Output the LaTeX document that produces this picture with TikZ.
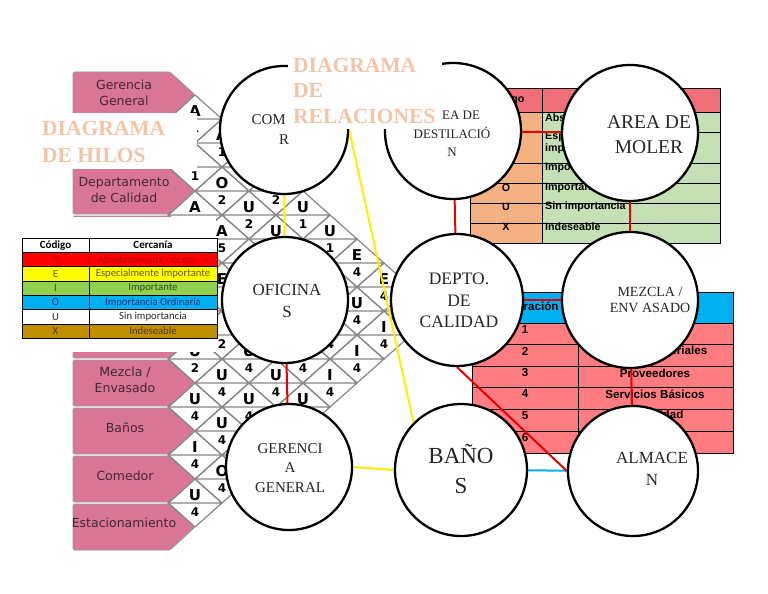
\documentclass[tikz,border=0pt]{standalone}
\usepackage{fontspec}
\setmainfont{Liberation Serif}
\setsansfont{DejaVu Sans}
\newfontfamily\tablaFont{Liberation Sans}
\newfontfamily\leyendaFont{Carlito}
\usetikzlibrary{positioning}
\pgfdeclarelayer{base}
\pgfdeclarelayer{lazos}
\pgfsetlayers{base,lazos,main}

\definecolor{filaRosa}{RGB}{217,118,150}
\definecolor{filaBorde}{RGB}{150,150,150}
\definecolor{filaTexto}{RGB}{70,40,52}
\definecolor{rejilla}{RGB}{135,135,135}
\definecolor{tituloMelon}{RGB}{243,196,168}
\definecolor{lazoRojo}{RGB}{232,0,0}
\definecolor{lazoAmarillo}{RGB}{255,240,0}
\definecolor{lazoAzul}{RGB}{0,176,240}
\definecolor{leyRojo}{RGB}{255,0,0}
\definecolor{leyRojoT}{RGB}{192,0,0}
\definecolor{leyAmarillo}{RGB}{255,255,0}
\definecolor{leyAmarilloT}{RGB}{110,80,0}
\definecolor{leyVerde}{RGB}{146,208,80}
\definecolor{leyVerdeT}{RGB}{40,80,20}
\definecolor{leyAzul}{RGB}{0,176,240}
\definecolor{leyAzulT}{RGB}{0,50,130}
\definecolor{leyBlancoT}{RGB}{40,40,40}
\definecolor{leyCafe}{RGB}{191,143,0}
\definecolor{leyCafeT}{RGB}{80,55,0}
\definecolor{tabRosa}{RGB}{240,110,120}
\definecolor{tabSalmon}{RGB}{244,177,131}
\definecolor{tabVerde}{RGB}{197,224,180}
\definecolor{tabAzul}{RGB}{0,176,240}
\definecolor{tabCoral}{RGB}{255,124,128}

\begin{document}
\begin{tikzpicture}[x=1pt, y=-1pt,
  fila/.style={fill=filaRosa, draw=filaBorde, line width=0.8pt, rounded corners=1.5pt},
  filaT/.style={font=\sffamily\fontsize{12.5}{16.5}\selectfont, text=filaTexto, align=center, inner sep=0pt},
  celda/.style={draw=rejilla, line width=1.2pt},
  letra/.style={font=\sffamily\bfseries\fontsize{15}{15}\selectfont, inner sep=0pt},
  numero/.style={font=\sffamily\bfseries\fontsize{12}{12}\selectfont, inner sep=0pt},
  circulo/.style={circle, draw=black, line width=2.3pt, fill=white, minimum size=#1, inner sep=0pt},
  ctexto/.style={align=center, inner sep=0pt, text=black!85},
  lazo/.style={line width=2pt},
  titulo/.style={font=\bfseries\fontsize{21.5}{26}\selectfont, text=tituloMelon, inner sep=0pt},
  leyCod/.style={draw=black, line width=0.6pt, outer sep=0pt, minimum width=67pt,
                 minimum height=14.3pt, inner sep=0pt, font=\leyendaFont\fontsize{10.7}{11}\selectfont},
  leyCer/.style={leyCod, minimum width=128pt},
  tab/.style={font=\tablaFont\bfseries\fontsize{10.7}{11.5}\selectfont, inner sep=0pt},
  tabB/.style={tab, font=\tablaFont\bfseries\fontsize{11.6}{12}\selectfont}
]
  \useasboundingbox (0,0) rectangle (768,594);
  \begin{pgfonlayer}{base}
  \fill[white] (0,0) rectangle (768,594);

  % carta de relaciones (filas)
  \foreach \r in {1,...,10}{
    \pgfmathsetmacro{\yc}{95+48*(\r-1)}
    \draw[fila] (73,\yc-23) -- (170,\yc-23) -- (195,\yc) -- (170,\yc+23) -- (73,\yc+23) -- cycle;
  }
  \node[filaT] (gg) at (124,93)  {Gerencia\\General};
  \node[filaT] (dc) at (124,190) {Departamento\\de Calidad};
  \node[filaT] (me) at (125,380) {Mezcla /\\Envasado};
  \node[filaT] (ba) at (125,428) {Baños};
  \node[filaT] (co) at (125,476) {Comedor};
  \node[filaT] (es) at (124,523) {Estacionamiento};

  % rombos
  \foreach \i in {1,...,9}{
    \pgfmathtruncatemacro{\ini}{\i+1}
    \foreach \j in {\ini,...,10}{
      \pgfmathsetmacro{\cx}{195+27*(\j-\i-1)}
      \pgfmathsetmacro{\cy}{95+24*(\i+\j-2)}
      \draw[celda] (\cx-27,\cy) -- (\cx,\cy-24) -- (\cx+27,\cy) -- (\cx,\cy+24) -- cycle
                   (\cx-27,\cy) -- (\cx+27,\cy);
    }
  }
  \foreach \i/\j/\le in {1/2/A,1/3/A,2/3/I,2/4/O,3/4/A,1/6/U,2/5/U,3/5/A,2/6/U,1/7/U,1/8/E,1/9/E,
                         2/9/U,2/10/I,3/10/I,4/6/E,4/10/I,5/8/U,5/9/U,5/10/U,6/7/U,6/8/U,6/9/U,7/8/U,
                         7/9/U,8/9/I,8/10/O,9/10/U}{
    \node[letra] (l\i-\j) at ({195+27*(\j-\i-1)},{87+24*(\i+\j-2)}) {\le};
  }
  \foreach \i/\j/\nu in {1/2/1,1/3/1,2/3/1,2/4/2,1/5/2,1/6/1,2/5/2,3/5/5,1/7/1,1/8/4,1/9/4,2/9/4,
                         2/10/4,3/9/4,3/10/4,4/9/4,4/10/4,5/7/2,5/8/4,5/9/4,6/7/2,6/8/4,6/9/4,
                         7/8/4,7/9/4,8/9/4,8/10/4,9/10/4}{
    \node[numero] (n\i-\j) at ({195+27*(\j-\i-1)},{104+24*(\i+\j-2)}) {\nu};
  }

  % tabla de cercania (derecha arriba)
  \fill[tabRosa] (470,88) rectangle (720,112);
  \fill[tabSalmon] (470,112) rectangle (542,243);
  \fill[tabVerde] (542,112) rectangle (720,243);
  \draw[line width=0.7pt] (470,88) rectangle (720,243) (542,88) -- (542,243);
  \foreach \yy in {112,132,163,183,203,223} \draw[line width=0.7pt] (470,\yy) -- (720,\yy);
  \node[tab] (t1h) at (506,100) {Código};
  \foreach \k/\yy/\cod in {1/118/A,2/137/E,3/168/I,4/188/O,5/207/U,6/227/X}
    \node[tab] (t1c\k) at (506,\yy) {\cod};
  \node[tab, anchor=west] (t1a) at (545,118) {Absolutamente necesario};
  \node[tab, anchor=north west, align=left] (t1b) at (545,132) {Especialmente\\importante};
  \node[tab, anchor=west] (t1d) at (545,168) {Importante};
  \node[tab, anchor=west] (t1e) at (545,188) {Importancia ordinaria};
  \node[tab, anchor=west] (t1f) at (545,207) {Sin importancia};
  \node[tab, anchor=west] (t1g) at (545,227) {Indeseable};

  % tabla de razones (derecha abajo)
  \fill[tabAzul] (472,292) rectangle (733,323);
  \fill[tabCoral] (472,323) rectangle (733,453);
  \draw[line width=0.7pt] (472,292) rectangle (733,453) (578,292) -- (578,453);
  \foreach \yy in {323,344.5,366,387.5,409,431} \draw[line width=0.7pt] (472,\yy) -- (733,\yy);
  \node[tabB] (t2h) at (525,306) {Numeración};
  \foreach \k/\yy in {1/330,2/351,3/373,4/394,5/416,6/438}
    \node[tabB] (t2n\k) at (525,\yy) {\k};
  \node[tabB] (t2b) at (655,351) {Flujo de Materiales};
  \node[tabB] (t2c) at (655,373) {Proveedores};
  \node[tabB] (t2d) at (655,394) {Servicios Básicos};
  \node[tabB] (t2e) at (655,416) {Seguridad};
  \end{pgfonlayer}

  % circulos
  \node[circulo=128pt] (com)    at (284,130) {};
  \node[circulo=136pt] (destil) at (453,131) {};
  \node[circulo=136pt] (moler)  at (630,133) {};
  \node[circulo=126pt] (ofic)   at (285,300) {};
  \node[circulo=132pt] (depto)  at (457,300) {};
  \node[circulo=136pt] (mezcla) at (630,300) {};
  \node[circulo=126pt] (geren)  at (289,467) {};
  \node[circulo=132pt] (banos)  at (461,470) {};
  \node[circulo=130pt] (almac)  at (633,471) {};

  % lazos entre areas
  \begin{pgfonlayer}{lazos}
  \draw[lazo, lazoAmarillo] (com) -- (ofic);
  \draw[lazo, lazoRojo] (ofic) -- (geren);
  \draw[lazo, lazoAmarillo] (com.east) -- (banos.north west);
  \draw[lazo, lazoAmarillo] (geren.east) -- (banos.west);
  \draw[lazo, lazoAzul] (banos) -- (almac);
  \draw[lazo, lazoRojo] (depto.south) -- (almac.west);
  \draw[lazo, lazoRojo] (destil) -- (moler);
  \draw[lazo, lazoRojo] (destil) -- (depto);
  \draw[lazo, lazoRojo] (moler) -- (mezcla);
  \draw[lazo, lazoRojo] (mezcla) -- (almac);
  \draw[lazo, lazoRojo] (depto) -- (mezcla);
  \end{pgfonlayer}

  \node[ctexto, font=\fontsize{15}{20}\selectfont]   (comT)    at (284,130) {COM\hphantom{EDO}\\R};
  \node[ctexto, font=\fontsize{13}{18.5}\selectfont] (destilT) at (452,134) {AREA DE\\DESTILACIÓ\\N};
  \node[ctexto, font=\fontsize{19.5}{25}\selectfont] (molerT)  at (649,134.5) {AREA DE\\MOLER};
  \node[ctexto, font=\fontsize{17}{22}\selectfont]   (oficT)   at (287,301) {OFICINA\\S};
  \node[ctexto, font=\fontsize{17.5}{21.5}\selectfont] (deptoT) at (459,300.5) {DEPTO.\\DE\\CALIDAD};
  \node[ctexto, font=\fontsize{14}{16.7}\selectfont] (mezclaT) at (650,300) {MEZCLA /\\ENV ASADO};
  \node[ctexto, font=\fontsize{15}{19.5}\selectfont] (gerenT)  at (290,468) {GERENCI\\A\\GENERAL};
  \node[ctexto, font=\fontsize{23}{30}\selectfont]   (banosT)  at (461,469) {BAÑO\\S};
  \node[ctexto, font=\fontsize{17}{22}\selectfont]   (almacT)  at (652,469) {ALMACE\\N};

  % tabla de codigos (izquierda)
  \fill[white] (20,217) rectangle (216,352);
  \node[leyCod, font=\leyendaFont\bfseries\fontsize{11}{11}\selectfont, fill=white, anchor=north west]
       (cod0) at (22,238) {Código};
  \node[leyCer, font=\leyendaFont\bfseries\fontsize{11}{11}\selectfont, fill=white, right=0pt of cod0]
       (cer0) {Cercanía};
  \foreach \k/\cod/\txt/\bg/\fg [remember=\k as \prev (initially 0)] in
      {1/A/Absolutamente necesario/leyRojo/leyRojoT,
       2/E/Especialmente importante/leyAmarillo/leyAmarilloT,
       3/I/Importante/leyVerde/leyVerdeT,
       4/O/Importancia Ordinaria/leyAzul/leyAzulT,
       5/U/Sin importancia/white/leyBlancoT,
       6/X/Indeseable/leyCafe/leyCafeT}{
    \node[leyCod, fill=\bg, text=\fg, below=0pt of cod\prev] (cod\k) {\cod};
    \node[leyCer, fill=\bg, text=\fg, right=0pt of cod\k] (cer\k) {\txt};
  }

  % titulos
  \fill[white] (40,113) rectangle (197,169);
  \node[titulo, anchor=base west] (hil1) at (42,135) {DIAGRAMA};
  \node[titulo, anchor=base west] (hil2) at (42,162) {DE HILOS};
  \fill[white] (288,50) rectangle (442,129);
  \node[titulo, anchor=base west] (rel1) at (293,72)  {DIAGRAMA};
  \node[titulo, anchor=base west] (rel2) at (293,97)  {DE};
  \node[titulo, anchor=base west] (rel3) at (293,123) {RELACIONES};
\end{tikzpicture}
\end{document}
